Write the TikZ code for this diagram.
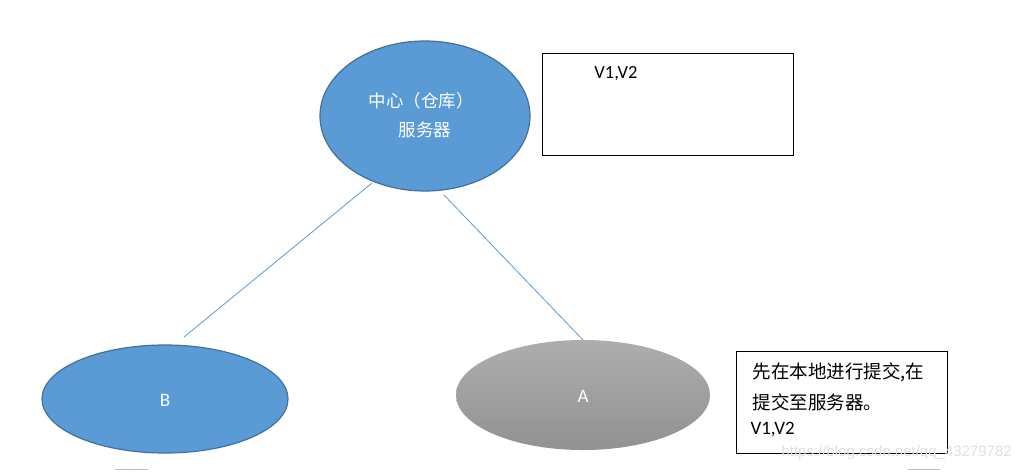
\documentclass[tikz,border=0pt]{standalone}
\usepackage{fontspec}
\setmainfont{Carlito}
\newfontfamily\cjk{Noto Sans CJK SC}
\newfontfamily\wm{Liberation Sans}
\begin{document}
\begin{tikzpicture}[x=1pt,y=-1pt,
  blueell/.style={ellipse, draw=edgeblue, line width=1.2pt, fill=fillblue, text=white, inner sep=0pt},
  conn/.style={draw=lineblue, line width=0.8pt},
  txtbox/.style={draw=black, line width=1pt, fill=white, inner sep=0pt}]
\usetikzlibrary{shapes.geometric}
\definecolor{fillblue}{HTML}{5B9BD5}
\definecolor{edgeblue}{HTML}{41719C}
\definecolor{lineblue}{HTML}{5B9BD5}
\useasboundingbox (0,0) rectangle (1032,471);
\fill[white] (0,0) rectangle (1032,471);
% central ellipse
\node[blueell, minimum width=210pt, minimum height=150pt] (C) at (425,116) {};
\node[text=white, font=\cjk\fontsize{17.5}{20}\selectfont, anchor=center] (c1) at (421,101) {中心（仓库）};
\node[text=white, font=\cjk\fontsize{17.5}{20}\selectfont, anchor=center] (c2) at (425,130) {服务器};
% top box
\node[txtbox, minimum width=251pt, minimum height=102pt] (R1) at (667.5,104) {};
\node[font=\fontsize{18.5}{20}\selectfont, anchor=center] (v1) at (616,74) {V1,V2};
% B
\node[blueell, minimum width=246pt, minimum height=108pt] (B) at (165,399) {};
\node[text=white, font=\fontsize{19}{20}\selectfont] (b) at (165,400) {B};
% A
\shade[top color=black!32, bottom color=black!43] (583,395) ellipse [x radius=127, y radius=55];
\node[ellipse, minimum width=254pt, minimum height=110pt, inner sep=0pt] (A) at (583,395) {};
\node[text=white, font=\fontsize{19}{20}\selectfont] (a) at (583,396) {A};
% connectors
\coordinate (p1) at (372,183);
\coordinate (p2) at (184,337);
\coordinate (p3) at (444,195);
\coordinate (p4) at (583,340);
\draw[conn] (p1) -- (p2);
\draw[conn] (p3) -- (p4);
% right box
\node[txtbox, minimum width=211pt, minimum height=102pt] (R2) at (841.5,402) {};
\node[font=\cjk\fontsize{18.5}{20}\selectfont, anchor=west] (t1) at (749,372) {先在本地进行提交,在};
\node[font=\cjk\fontsize{18.5}{20}\selectfont, anchor=west] (t2) at (749,402) {提交至服务器。};
\node[font=\fontsize{19}{20}\selectfont, anchor=west] (t3) at (747,430) {V1,V2};
% watermark
\node[font=\wm\fontsize{15}{18}\selectfont, text=black!12, anchor=west] (wm) at (778,453) {https://blog.csdn.net/qq\_43279782};
% small gray marks at the bottom
\coordinate (g1) at (115,469);
\coordinate (g2) at (148,469);
\coordinate (g3) at (908,469);
\coordinate (g4) at (940,469);
\draw[black!25, line width=1pt] (g1) -- (g2);
\draw[black!25, line width=1pt] (g3) -- (g4);
\end{tikzpicture}
\end{document}
